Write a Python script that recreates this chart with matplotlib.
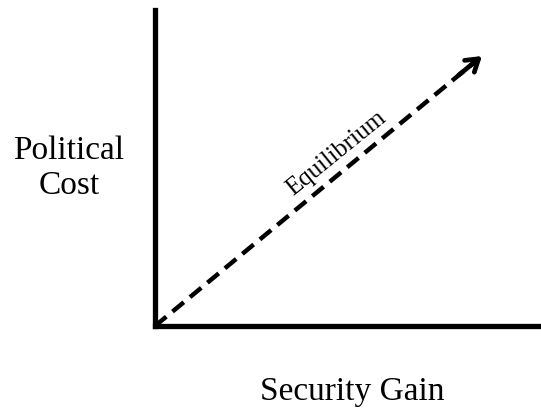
import matplotlib
matplotlib.use("Agg")
import matplotlib.pyplot as plt

# Data
x_label = "Security Gain"
y_label = "Political\nCost"
line_label = "Equilibrium"
arrow_start = (0.0, 0.0)
arrow_end = (0.847, 0.854)

plt.rcParams['font.family'] = ['Liberation Serif', 'DejaVu Serif']

fig = plt.figure(figsize=(5.41, 4.10), dpi=100)
ax = fig.add_axes([0.2865, 0.2024, 0.7135, 0.771])
ax.set_xlim(0, 1)
ax.set_ylim(0, 1)
for s in ['top', 'right']:
    ax.spines[s].set_visible(False)
for s in ['left', 'bottom']:
    ax.spines[s].set_linewidth(3.8)
    ax.spines[s].set_capstyle('projecting')
ax.set_xticks([])
ax.set_yticks([])

ax.plot([arrow_start[0], arrow_end[0] - 0.012], [arrow_start[1], arrow_end[1] - 0.012],
        color='black', lw=3.2, linestyle=(0, (3.3, 1.8)), solid_capstyle='butt')
ax.annotate("", xy=arrow_end, xytext=(arrow_end[0] - 0.06, arrow_end[1] - 0.06),
            arrowprops=dict(arrowstyle="->,head_length=0.85,head_width=0.55",
                            lw=3.4, color='black', shrinkA=0, shrinkB=0))

ax.text(0.47, 0.55, line_label, rotation=39, ha='center', va='center',
        fontsize=18, transform=ax.transData, rotation_mode='anchor')

fig.text(69 / 541, 1 - 168 / 410, y_label, ha='center', va='center',
         fontsize=24, linespacing=1.2)
fig.text(352 / 541, 1 - 392 / 410, x_label, ha='center', va='center', fontsize=24)

fig.savefig("out.png", dpi=100)
